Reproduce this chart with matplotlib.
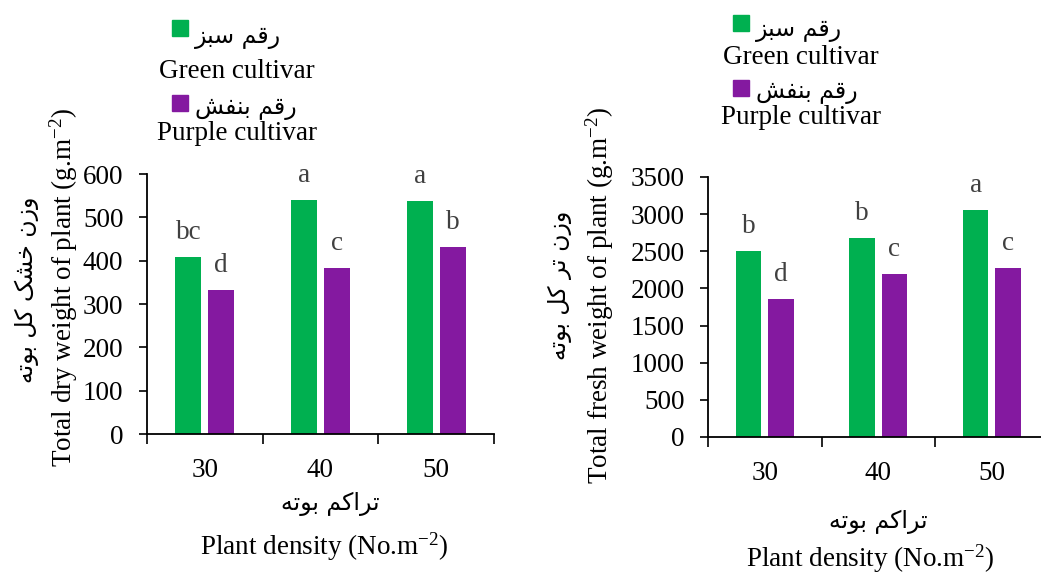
import matplotlib
matplotlib.use("Agg")
import matplotlib.pyplot as plt
from matplotlib.patches import Rectangle
import numpy as np

# ---------------- data ----------------
densities = ["30", "40", "50"]
dry_green = [408, 540, 538]
dry_purple = [332, 383, 432]
dry_letters_green = ["bc", "a", "a"]
dry_letters_purple = ["d", "c", "b"]
fresh_green = [2508, 2675, 3052]
fresh_purple = [1862, 2194, 2275]
fresh_letters_green = ["b", "b", "a"]
fresh_letters_purple = ["d", "c", "c"]
dry_yticks = [0, 100, 200, 300, 400, 500, 600]
fresh_yticks = [0, 500, 1000, 1500, 2000, 2500, 3000, 3500]

# Persian strings (presentation forms, visual order)
fa_green = "\uFEB0\uFE92\uFEB3 \uFEE2\uFED7\uFEAD"            # رقم سبز
fa_purple = "\uFEB6\uFED4\uFEE8\uFE91 \uFEE2\uFED7\uFEAD"      # رقم بنفش
fa_density = "\uFEEA\uFE97\uFEEE\uFE91 \uFEE2\uFB90\uFE8D\uFEAE\uFE97"   # تراکم بوته
fa_dry = "\uFEEA\uFE97\uFEEE\uFE91 \uFEDE\uFB90 \uFB8F\uFEB8\uFEA7 \uFEE5\uFEAF\uFEED"  # وزن خشک کل بوته
fa_fresh = "\uFEEA\uFE97\uFEEE\uFE91 \uFEDE\uFB90 \uFEAE\uFE97 \uFEE5\uFEAF\uFEED"      # وزن تر کل بوته

GREEN = "#00B050"
PURPLE = "#8419A0"
SERIF = ["Liberation Serif", "DejaVu Serif"]
FA = ["DejaVu Sans"]

plt.rcParams["font.family"] = SERIF
plt.rcParams["mathtext.fontset"] = "custom"
plt.rcParams["mathtext.rm"] = "Liberation Serif"
plt.rcParams["mathtext.it"] = "Liberation Serif:italic"
plt.rcParams["mathtext.bf"] = "Liberation Serif:bold"

W, H = 1041, 574
fig = plt.figure(figsize=(W / 100, H / 100), dpi=100)


def fx(x):
    return x / W


def fy(y):
    return 1 - y / H


FS = 19.5
FA_FS = 17


def panel(left, bottom, right, top, green, purple, lg, lp, yticks, ymax):
    ax = fig.add_axes([fx(left), fy(bottom), fx(right - left), (bottom - top) / H])
    x = np.arange(len(densities))
    bw = 0.224
    off = 0.142
    ax.bar(x - off, green, bw, color=GREEN, zorder=2)
    ax.bar(x + off, purple, bw, color=PURPLE, zorder=2)
    for xi, v, t in zip(x - off, green, lg):
        ax.annotate(t, (xi, v), xytext=(0, 13), textcoords="offset points",
                    ha="center", va="baseline", fontsize=FS, color="#404040")
    for xi, v, t in zip(x + off, purple, lp):
        ax.annotate(t, (xi, v), xytext=(0, 13), textcoords="offset points",
                    ha="center", va="baseline", fontsize=FS, color="#404040")
    ax.set_xlim(-0.5, len(densities) - 0.5)
    ax.set_ylim(0, ymax)
    ax.set_yticks(yticks)
    ax.set_yticklabels([str(t) for t in yticks], fontsize=FS)
    ax.set_xticks(np.arange(len(densities) + 1) - 0.5)
    ax.set_xticklabels([])
    ax.set_xticks(x, minor=True)
    ax.set_xticklabels(densities, minor=True, fontsize=FS)
    ax.tick_params(axis="x", which="major", length=7, width=1.2, direction="out")
    ax.tick_params(axis="x", which="minor", length=0, pad=17)
    ax.tick_params(axis="y", length=6, width=1.2, direction="out", pad=11)
    for s in ["top", "right"]:
        ax.spines[s].set_visible(False)
    for s in ["left", "bottom"]:
        ax.spines[s].set_linewidth(1.3)
    return ax


panel(147, 434, 494, 174, dry_green, dry_purple,
      dry_letters_green, dry_letters_purple, dry_yticks, 600)
panel(708, 437, 1048.5, 177, fresh_green, fresh_purple,
      fresh_letters_green, fresh_letters_purple, fresh_yticks, 3500)


def legend(sq_x, g_y, p_y, fa_x, g_fa_y, p_fa_y, en_x, g_en_y, p_en_y):
    for yy, c in ((g_y, GREEN), (p_y, PURPLE)):
        fig.add_artist(Rectangle((fx(sq_x), fy(yy + 16)), 16 / W, 16 / H,
                                 transform=fig.transFigure, color=c))
    fig.text(fx(fa_x), fy(g_fa_y), fa_green, family=FA, fontsize=FA_FS,
             ha="left", va="center")
    fig.text(fx(fa_x), fy(p_fa_y), fa_purple, family=FA, fontsize=FA_FS,
             ha="left", va="center")
    fig.text(fx(en_x), fy(g_en_y), "Green cultivar", fontsize=FS,
             ha="center", va="center")
    fig.text(fx(en_x), fy(p_en_y), "Purple cultivar", fontsize=FS,
             ha="center", va="center")


legend(172, 20, 95, 195, 37, 108, 237, 72, 134)
legend(733, 15, 80, 756, 30, 92, 801, 57, 118)

# axis titles
unit_y = r"(g.m$^{\mathrm{-2}}$)"
unit_x = r"Plant density (No.m$^{\mathrm{-2}}$)"
fig.text(fx(27), fy(290), fa_dry, family=FA, fontsize=FA_FS, rotation=90,
         ha="center", va="center")
fig.text(fx(64), fy(287), "Total dry weight of plant " + unit_y, fontsize=FS,
         rotation=90, ha="center", va="center")
fig.text(fx(330), fy(504), fa_density, family=FA, fontsize=FA_FS,
         ha="center", va="center")
fig.text(fx(324), fy(547), unit_x, fontsize=FS, ha="center", va="center")

fig.text(fx(560), fy(285), fa_fresh, family=FA, fontsize=FA_FS, rotation=90,
         ha="center", va="center")
fig.text(fx(600), fy(295), "Total fresh weight of plant " + unit_y, fontsize=FS,
         rotation=90, ha="center", va="center")
fig.text(fx(878), fy(522), fa_density, family=FA, fontsize=FA_FS,
         ha="center", va="center")
fig.text(fx(870), fy(559), unit_x, fontsize=FS, ha="center", va="center")

fig.savefig("out.png", dpi=100)
